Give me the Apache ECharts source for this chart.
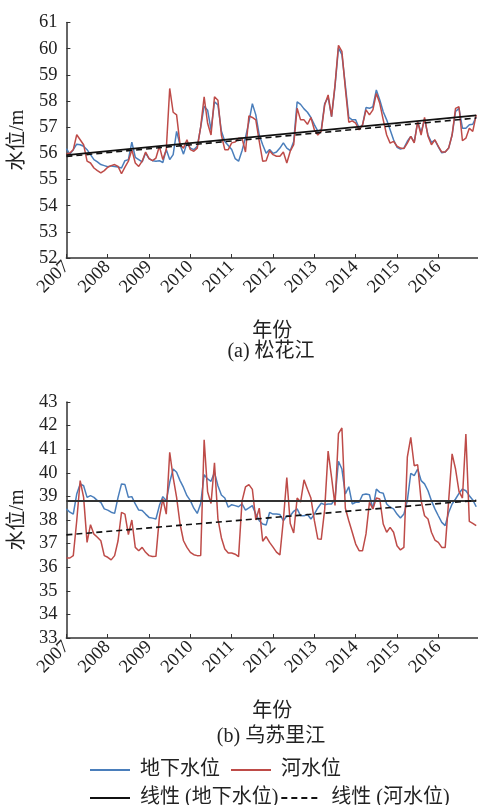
<!DOCTYPE html>
<html><head><meta charset="utf-8">
<script src="https://cdn.jsdelivr.net/npm/echarts@6/dist/echarts.min.js"></script>
<style>html,body{margin:0;padding:0;background:#fff}#c{width:478px;height:805px}</style>
</head><body><div id="c"></div>
<script>
// ---- data (monthly, Jan 2007 – Dec 2016) ----
const startYear = 2007;
const yearTicks = [2007, 2008, 2009, 2010, 2011, 2012, 2013, 2014, 2015, 2016];

// (a) 松花江
const gwA = [56.18,55.97,56.14,56.35,56.33,56.27,56.14,55.95,55.76,55.67,55.57,55.53,
  55.49,55.52,55.5,55.48,55.44,55.72,55.76,56.43,55.85,55.76,55.67,56.01,
  55.8,55.72,55.7,55.72,55.65,56.15,55.76,55.95,56.84,56.33,55.97,56.39,
  56.2,56.14,56.27,57.0,57.8,57.65,56.9,57.97,57.85,56.85,56.45,56.3,
  56.15,55.8,55.7,56.1,56.6,57.2,57.9,57.47,56.7,56.33,56.0,56.15,
  56.0,56.05,56.2,56.4,56.2,56.1,56.45,57.97,57.87,57.7,57.57,57.37,
  57.1,56.85,56.9,57.9,58.15,57.4,58.55,60.03,59.77,58.6,57.37,57.28,
  57.28,56.96,57.09,57.75,57.72,57.78,58.42,58.04,57.59,57.28,56.9,56.52,
  56.23,56.16,56.2,56.46,56.65,56.43,57.2,56.8,57.3,56.7,56.42,56.5,
  56.25,56.02,56.05,56.2,56.7,57.6,57.72,56.96,56.96,57.09,57.11,57.4];
const riverA = [55.97,56.01,56.14,56.71,56.52,56.33,55.7,55.63,55.44,55.34,55.25,55.34,
  55.47,55.53,55.57,55.5,55.22,55.47,55.7,56.14,55.63,55.5,55.7,56.05,
  55.8,55.72,55.82,56.27,55.76,56.14,58.48,57.57,57.47,56.33,56.2,56.52,
  56.14,56.08,56.2,57.02,58.16,57.15,56.7,58.16,58.03,56.7,56.14,56.14,
  56.4,56.43,56.58,56.58,56.05,57.43,57.37,57.28,56.46,55.7,55.72,56.1,
  55.95,55.89,55.89,56.05,55.63,56.08,56.33,57.72,57.28,57.28,57.11,57.37,
  56.9,56.7,56.84,57.85,58.23,57.4,58.62,60.13,59.9,58.48,57.19,57.24,
  57.15,56.9,57.09,57.66,57.47,57.66,58.29,57.91,57.28,56.7,56.39,56.46,
  56.27,56.2,56.18,56.39,56.65,56.4,57.2,56.7,57.37,56.65,56.33,56.52,
  56.27,56.05,56.05,56.2,56.7,57.72,57.78,56.48,56.58,56.96,56.84,57.47];

// (b) 乌苏里江
const gwB = [38.47,38.33,38.25,39.1,39.53,39.45,38.96,39.03,38.96,38.82,38.75,38.47,
  38.42,38.33,38.28,38.96,39.53,39.5,38.96,38.99,38.68,38.42,38.4,38.25,
  38.11,38.08,38.04,38.61,38.99,38.82,39.6,40.16,40.02,39.67,39.38,39.03,
  38.82,38.5,38.28,38.7,39.92,39.74,39.64,40.02,39.45,39.06,38.93,38.54,
  38.65,38.61,38.56,38.68,38.42,38.51,38.61,38.25,37.97,37.83,37.79,38.32,
  38.25,38.25,38.23,37.97,38.18,38.18,38.37,38.47,38.18,38.18,38.23,38.04,
  38.25,38.51,38.71,38.65,38.68,38.68,38.89,40.49,40.16,39.1,39.41,38.68,
  38.75,38.75,39.07,39.1,39.07,38.47,39.31,39.17,39.13,38.68,38.54,38.47,
  38.25,38.08,38.25,38.82,39.98,39.88,40.16,39.67,39.53,39.24,38.82,38.47,
  38.18,37.9,37.76,38.32,38.68,38.89,39.13,39.31,39.24,39.03,38.85,38.56];
const riverB = [36.39,36.39,36.49,37.97,39.67,38.96,37.05,37.8,37.4,37.27,37.12,36.49,
  36.42,36.31,36.49,37.12,38.32,38.25,37.38,38.0,36.84,36.7,36.84,36.63,
  36.49,36.45,36.46,38.11,38.89,38.25,40.87,39.81,38.96,37.83,37.12,36.84,
  36.63,36.53,36.49,36.5,41.4,39.2,38.7,40.42,38.05,37.25,36.77,36.6,
  36.6,36.55,36.45,38.8,39.4,39.5,39.3,38.0,38.5,37.1,37.3,37.05,
  36.85,36.64,36.52,38.0,39.8,37.85,37.45,38.93,38.76,39.7,39.3,38.93,
  37.98,37.2,37.18,38.45,40.92,39.81,38.62,41.66,41.9,38.5,37.97,37.48,
  36.98,36.7,36.7,37.41,38.75,38.47,38.93,38.89,37.83,37.48,37.69,37.48,
  36.91,36.73,36.84,40.66,41.5,40.3,40.34,38.82,38.18,38.04,37.48,37.15,
  37.05,36.84,36.84,38.82,40.8,40.16,39.21,38.93,41.64,37.94,37.86,37.76];

// linear trend end values
const trendX = [2007, 2016.917];
const trendGwA = [55.93, 57.45];
const trendRiverA = [55.88, 57.35];
const trendGwB = [38.8, 38.8];
const trendRiverB = [37.37, 38.83];

const yTicksA = [52, 61];
const yTicksB = [33, 43];

// ---- chart ----
const monthX = gwA.map((_, i) => startYear + i / 12);
const pair = (xs, ys) => ys.map((v, i) => [xs[i], v]);

const FONT = '"Liberation Serif", "Times New Roman", "Noto Sans CJK SC", serif';
const BLUE = '#4a7ebb', RED = '#be4b48', AXIS = '#333';

function xAxisDef(gi) {
  return {
    type: 'value', gridIndex: gi, min: yearTicks[0], max: 2016.96, interval: 1,
    name: '年份', nameLocation: 'middle', nameGap: 64,
    nameTextStyle: { fontFamily: FONT, fontSize: 20, color: '#222' },
    axisLine: { lineStyle: { color: AXIS, width: 1.5 } },
    axisTick: { inside: true, length: 4, lineStyle: { color: AXIS } },
    splitLine: { show: false },
    axisLabel: { rotate: 45, fontFamily: FONT, fontSize: 18.5, color: '#222', margin: 6,
      showMaxLabel: false, formatter: v => String(Math.round(v)) }
  };
}
function yAxisDef(gi, range) {
  return {
    type: 'value', gridIndex: gi, min: range[0], max: range[1], interval: 1,
    name: '水位/m', nameLocation: 'middle', nameGap: 36, nameRotate: 90,
    nameTextStyle: { fontFamily: FONT, fontSize: 20, color: '#222' },
    axisLine: { show: true, lineStyle: { color: AXIS, width: 1.5 } },
    axisTick: { show: true, inside: true, length: 4, lineStyle: { color: AXIS } },
    splitLine: { show: false },
    axisLabel: { fontFamily: FONT, fontSize: 18.5, color: '#222', margin: 9 }
  };
}
function lineSeries(name, gi, data, color, width, type) {
  return {
    name, type: 'line', xAxisIndex: gi, yAxisIndex: gi, data,
    symbol: 'none', showSymbol: false, animation: false, z: type ? 3 : 2,
    lineStyle: { color, width, type: type || 'solid' },
    itemStyle: { color }
  };
}
const legendCommon = {
  itemWidth: 40, itemHeight: 14,
  itemStyle: { color: 'transparent', borderColor: 'transparent', borderWidth: 0 },
  textStyle: { fontFamily: FONT, fontSize: 20, color: '#222', padding: [0, 0, 0, 5] }
};

const chart = echarts.init(document.getElementById('c'), null, { renderer: 'canvas' });
chart.setOption({
  backgroundColor: '#fff',
  animation: false,
  grid: [
    { left: 64, right: 0, top: 22.5, height: 235.5 },
    { left: 64, right: 0, top: 402, height: 236 }
  ],
  xAxis: [xAxisDef(0), xAxisDef(1)],
  yAxis: [yAxisDef(0, yTicksA), yAxisDef(1, yTicksB)],
  legend: [
    Object.assign({ data: ['地下水位', '河水位'], left: 84, top: 755, itemGap: 10 }, legendCommon),
    Object.assign({ data: ['线性 (地下水位)', '线性 (河水位)'], left: 84, top: 783, itemGap: 2 }, legendCommon)
  ],
  graphic: [
    { type: 'text', x: 271, y: 352, style: { text: '(a) 松花江', font: '20px ' + FONT, fill: '#222', align: 'center', verticalAlign: 'middle' } },
    { type: 'text', x: 271, y: 737, style: { text: '(b) 乌苏里江', font: '20px ' + FONT, fill: '#222', align: 'center', verticalAlign: 'middle' } }
  ],
  series: [
    lineSeries('地下水位', 0, pair(monthX, gwA), BLUE, 1.5),
    lineSeries('河水位', 0, pair(monthX, riverA), RED, 1.5),
    lineSeries('线性 (地下水位)', 0, pair(trendX, trendGwA), '#111', 1.6),
    lineSeries('线性 (河水位)', 0, pair(trendX, trendRiverA), '#111', 1.6, [6, 4]),
    lineSeries('地下水位', 1, pair(monthX, gwB), BLUE, 1.5),
    lineSeries('河水位', 1, pair(monthX, riverB), RED, 1.5),
    lineSeries('线性 (地下水位)', 1, pair(trendX, trendGwB), '#333', 2),
    lineSeries('线性 (河水位)', 1, pair(trendX, trendRiverB), '#111', 1.6, [6, 4])
  ]
});
</script></body></html>
